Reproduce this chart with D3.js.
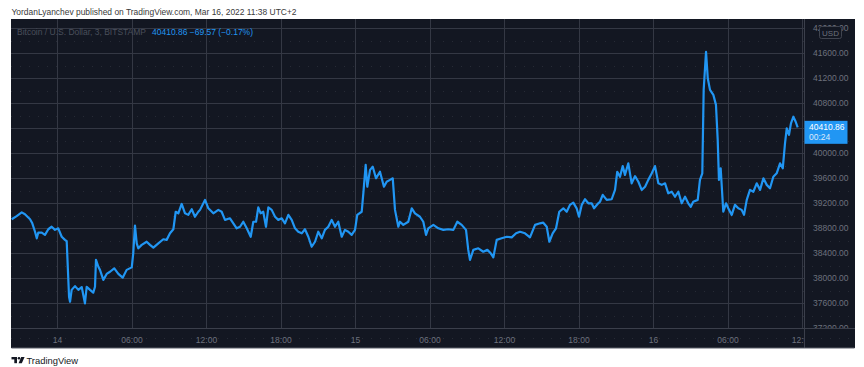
<!DOCTYPE html>
<html><head><meta charset="utf-8">
<script src="https://cdn.jsdelivr.net/npm/d3@7"></script>
<style>
html,body{margin:0;padding:0;background:#fff;}
svg{display:block;}
text{font-family:"Liberation Sans",Arial,sans-serif;}
</style>
</head><body>
<svg id="chart" width="864" height="367"></svg>
<script>
// ---- data (hours relative to 2022-03-14 00:00 UTC+2, BTC/USD 3-min close) ----
const hoursFromMar14 = [
-3.65,-3.25,-2.84,-2.58,-2.17,-1.99,-1.77,-1.63,-1.51,-1.23,-0.97,-0.70,-0.43,-0.16,0.10,0.38,0.64,0.78,
0.97,1.05,1.18,1.45,1.72,1.99,2.25,2.39,2.66,2.92,3.06,3.14,3.33,3.46,3.73,4.00,4.27,4.61,4.94,5.29,5.61,
6.02,6.14,6.28,6.42,6.55,6.82,7.22,7.49,7.76,8.16,8.56,8.83,9.10,9.37,9.56,9.77,10.04,10.31,10.57,10.85,
11.11,11.38,11.52,11.92,12.19,12.59,12.99,13.26,13.53,13.93,14.20,14.47,14.74,15.00,15.28,15.60,15.81,
16.03,16.21,16.40,16.61,16.83,17.02,17.29,17.56,17.82,18.10,18.36,18.63,18.90,19.17,19.43,19.71,19.97,
20.24,20.51,20.78,21.04,21.32,21.58,21.85,22.12,22.39,22.65,22.93,23.19,23.46,23.73,24.00,24.18,24.54,
24.67,24.86,24.99,25.21,25.43,25.69,26.01,26.33,26.55,26.82,27.04,27.22,27.49,27.62,27.89,28.29,28.57,
28.83,29.23,29.50,29.72,29.90,30.31,30.71,31.11,31.51,31.92,32.24,32.59,32.94,33.12,33.26,33.53,33.93,
34.33,34.66,34.93,35.14,35.41,35.81,36.22,36.62,36.97,37.29,37.69,38.09,38.50,38.90,39.16,39.44,39.65,
39.92,40.19,40.45,40.78,41.05,41.31,41.58,41.85,42.04,42.26,42.52,42.79,43.06,43.25,43.59,43.73,43.95,
44.27,44.67,44.94,45.12,45.34,45.56,45.74,46.01,46.28,46.55,46.82,47.09,47.36,47.62,47.90,48.16,48.43,
48.70,48.97,49.23,49.51,49.77,50.04,50.31,50.58,50.84,51.04,51.24,51.60,51.78,51.97,52.08,52.27,52.41,
52.59,52.86,53.07,53.21,53.31,53.45,53.66,53.88,54.06,54.34,54.60,54.87,55.14,55.33,55.55,55.81,56.08,
56.35,56.62,56.89,57.16,57.42,57.69,57.96,58.23,58.45,58.63,58.77,58.95,59.11,59.30,59.49,59.65];
const prices = [
38940,38990,39050,39020,38940,38875,38740,38635,38725,38725,38690,38780,38820,38770,38795,38660,38610,38590,
37700,37620,37810,37870,37810,37855,37595,37860,37810,37765,37860,38290,38180,38130,37970,38065,38100,38155,38065,38005,38130,
38170,38395,38840,38555,38475,38530,38580,38530,38485,38555,38620,38610,38715,38780,39060,39035,39185,39035,39010,39100,
38980,39060,39090,39250,39115,39035,39090,39060,38930,38955,38875,38795,38820,38900,38795,38660,38900,
38900,39130,39035,39060,38820,39130,39090,38980,38930,38955,38875,39010,38930,38795,38740,38715,38780,
38660,38500,38580,38740,38635,38770,38820,38930,38820,38900,38660,38770,38740,38690,38770,39010,39060,
39355,39810,39460,39730,39780,39595,39700,39460,39540,39570,39595,39090,38820,38900,38850,38900,39115,
39035,38980,38900,38690,38795,38850,38795,38770,38780,38770,38900,38850,38770,38450,38290,38450,38475,
38420,38450,38395,38330,38610,38635,38660,38650,38715,38740,38715,38650,38850,38875,38885,38820,38580,
38715,38795,39060,39115,39060,39170,39205,39115,38980,39170,39260,39195,39195,39115,39195,39220,39330,
39250,39260,39410,39700,39620,39790,39650,39835,39515,39630,39540,39410,39460,39570,39675,39790,39515,
39490,39515,39355,39380,39300,39380,39195,39300,39195,39140,39220,39250,39570,39675,41010,41620,41195,
41010,40930,40770,40210,39570,39755,39060,39195,39115,39010,39170,39115,39090,39010,39250,39410,39380,
39515,39410,39595,39490,39435,39620,39675,39835,39755,40155,40395,40290,40475,40580,40500,40410.86];

const xTickHours  = [0, 6, 12, 18, 24, 30, 36, 42, 48, 54, 60];
const xTickLabels = ["14","06:00","12:00","18:00","15","06:00","12:00","18:00","16","06:00","12:00"];
const yTickValues = [37200,37600,38000,38400,38800,39200,39600,40000,40400,40800,41200,41600,42000];
const lastPrice = 40410.86, priceChange = -69.57, pctChange = -0.17;
const candleCountdown = "00:24";
const headerText = "YordanLyanchev published on TradingView.com, Mar 16, 2022 11:38 UTC+2";
const symbolText = "Bitcoin / U.S. Dollar, 3, BITSTAMP";

// ---- layout ----
const panel = {x0: 11, y0: 19, x1: 855, y1: 348};
const plot  = {x0: 11, y0: 19, x1: 804, y1: 328};
const base = new Date(2022, 2, 14, 0, 0, 0);
const hrs = h => new Date(base.getTime() + h * 3600e3);

const x = d3.scaleTime().domain([hrs(-3.705), hrs(60.16)]).range([plot.x0, plot.x1]);
const y = d3.scaleLinear().domain([37200, 42000]).range([328, 28]);

const svg = d3.select("#chart");
const BG = "#131722", GRID = "#343844", AXT = "#6d717d", LINE = "#2196f3";
const FONT = '"Liberation Sans",Arial,sans-serif';

svg.append("rect").attr("width", 864).attr("height", 367).attr("fill", "#fff");

// header
svg.append("text").attr("x", 11.5).attr("y", 14.5).attr("fill", "#3a3a3a")
  .style("font-size", "9px").attr("textLength", 285).attr("lengthAdjust", "spacingAndGlyphs")
  .text(headerText);

// panel
svg.append("rect").attr("x", panel.x0).attr("y", panel.y0)
  .attr("width", panel.x1 - panel.x0).attr("height", panel.y1 - panel.y0)
  .attr("fill", BG);

const defs = svg.append("defs");
defs.append("clipPath").attr("id", "plotClip").append("rect")
  .attr("x", plot.x0).attr("y", plot.y0).attr("width", plot.x1 - plot.x0).attr("height", plot.y1 - plot.y0);
defs.append("clipPath").attr("id", "yaxClip").append("rect")
  .attr("x", plot.x1 + 1).attr("y", plot.y0).attr("width", panel.x1 - plot.x1 - 1).attr("height", plot.y1 - plot.y0);
defs.append("clipPath").attr("id", "xaxClip").append("rect")
  .attr("x", plot.x0).attr("y", plot.y1 + 1).attr("width", plot.x1 - plot.x0).attr("height", panel.y1 - plot.y1 - 1);

// faint dotted rows (background texture)
const dotted = svg.append("g").attr("stroke", "#272b36").attr("stroke-dasharray", "1,8");
for (let i = 0; i < yTickValues.length - 1; i++) {
  const yy = Math.round((y(yTickValues[i]) + y(yTickValues[i + 1])) / 2) + 0.5;
  dotted.append("line").attr("x1", panel.x0).attr("x2", panel.x1).attr("y1", yy).attr("y2", yy);
}
dotted.append("line").attr("x1", panel.x0).attr("x2", panel.x1).attr("y1", 338.5).attr("y2", 338.5);

// grid
const grid = svg.append("g").attr("clip-path", "url(#plotClip)").attr("stroke", GRID).attr("stroke-width", 1);
yTickValues.forEach(v => {
  const yy = Math.round(y(v)) + 0.5;
  grid.append("line").attr("x1", plot.x0).attr("x2", plot.x1).attr("y1", yy).attr("y2", yy);
});
xTickHours.forEach(h => {
  const xx = Math.round(x(hrs(h))) + 0.5;
  grid.append("line").attr("x1", xx).attr("x2", xx).attr("y1", plot.y0).attr("y2", plot.y1);
});

// price line
const line = d3.line()
  .x((d, i) => x(hrs(hoursFromMar14[i])))
  .y(d => y(d));
svg.append("path").datum(prices).attr("clip-path", "url(#plotClip)")
  .attr("d", line).attr("fill", "none").attr("stroke", LINE)
  .attr("stroke-width", 2.2).attr("stroke-linejoin", "round");

// axes (D3 axes, restyled) — wrapped in clipped groups
const yWrap = svg.append("g").attr("clip-path", "url(#yaxClip)");
const yAxis = d3.axisRight(y).tickValues(yTickValues.filter(v => Math.abs(y(v) - y(lastPrice)) > 12))
  .tickSize(0).tickPadding(9).tickFormat(d3.format(".2f"));
const yg = yWrap.append("g").attr("transform", `translate(${plot.x1},0)`).call(yAxis);
yg.select(".domain").remove();
yg.selectAll("text").attr("fill", AXT).style("font-size", "8.5px").style("font-family", FONT);

const xWrap = svg.append("g").attr("clip-path", "url(#xaxClip)");
const xAxis = d3.axisBottom(x).tickValues(xTickHours.map(hrs)).tickSize(0).tickPadding(9)
  .tickFormat((d, i) => xTickLabels[i]);
const xg = xWrap.append("g").attr("transform", `translate(0,${plot.y1})`).call(xAxis);
xg.select(".domain").remove();
xg.selectAll("text").attr("fill", AXT).style("font-size", "8.5px").style("font-family", FONT);

// separators
svg.append("line").attr("x1", panel.x0).attr("x2", panel.x1).attr("y1", plot.y1 + 0.5).attr("y2", plot.y1 + 0.5)
  .attr("stroke", "#3b3f4b");
svg.append("line").attr("x1", plot.x1 + 0.5).attr("x2", plot.x1 + 0.5).attr("y1", panel.y0).attr("y2", panel.y1)
  .attr("stroke", "#3b3f4b");
svg.append("rect").attr("x", panel.x0 + 0.5).attr("y", panel.y1 - 0.5).attr("width", panel.x1 - panel.x0 - 1).attr("height", 1)
  .attr("fill", "#5a5e69");

// USD box
svg.append("rect").attr("x", 819.5).attr("y", 26.5).attr("width", 22).attr("height", 12).attr("rx", 2)
  .attr("fill", BG).attr("stroke", "#40444f");
svg.append("text").attr("x", 830.5).attr("y", 35.5).attr("text-anchor", "middle").attr("fill", AXT)
  .style("font-size", "8px").text("USD");

// last price label
const lpY = y(lastPrice);
svg.append("rect").attr("x", plot.x1 + 0.5).attr("y", lpY - 6.5).attr("width", 43).attr("height", 23)
  .attr("fill", LINE);
svg.append("text").attr("x", 809).attr("y", lpY + 3).attr("fill", "#fff").style("font-size", "8.5px")
  .text(lastPrice.toFixed(2));
svg.append("text").attr("x", 809).attr("y", lpY + 13).attr("fill", "#dbe9fb").style("font-size", "8.5px")
  .text(candleCountdown);

// legend
svg.append("text").attr("x", 17).attr("y", 35).attr("fill", "#4a4f5b").style("font-size", "8.3px")
  .attr("textLength", 129).attr("lengthAdjust", "spacingAndGlyphs").text(symbolText);
const fmtSign = v => (v < 0 ? "\u2212" : "+") + Math.abs(v).toFixed(2);
svg.append("text").attr("x", 152).attr("y", 35).attr("fill", LINE).style("font-size", "8.3px")
  .attr("textLength", 101).attr("lengthAdjust", "spacingAndGlyphs")
  .text(`${lastPrice.toFixed(2)}  ${fmtSign(priceChange)} (${fmtSign(pctChange)}%)`);

// footer logo
const logo = svg.append("g").attr("fill", "#131722");
logo.append("rect").attr("x", 11.5).attr("y", 357).attr("width", 5.5).attr("height", 2.4);
logo.append("rect").attr("x", 14.3).attr("y", 357).attr("width", 2.7).attr("height", 6.2);
logo.append("circle").attr("cx", 19).attr("cy", 358.3).attr("r", 1.3);
logo.append("path").attr("d", "M21.2,357 L24.6,357 L21.8,363.2 L18.6,363.2 Z");
svg.append("text").attr("x", 26.5).attr("y", 364).attr("fill", "#131722").style("font-size", "9.6px")
  .attr("textLength", 51.5).attr("lengthAdjust", "spacingAndGlyphs").text("TradingView");
</script>
</body></html>
